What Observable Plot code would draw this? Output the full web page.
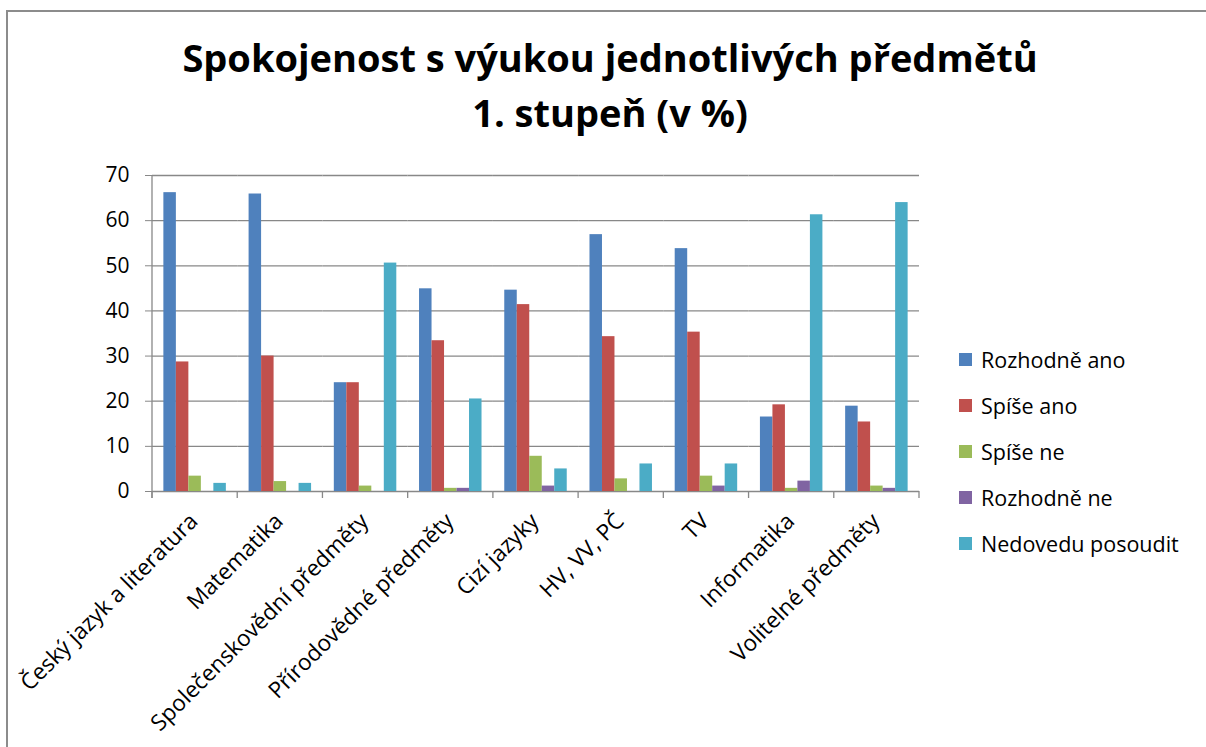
<!DOCTYPE html>
<html>
<head>
<meta charset="utf-8">
<script src="https://cdn.jsdelivr.net/npm/d3@7"></script>
<script src="https://cdn.jsdelivr.net/npm/@observablehq/plot@0.6"></script>
<style>
  html, body { margin: 0; background: #fff; font-family: "Open Sans", sans-serif; overflow: hidden; }
  #wrap { position: relative; width: 1206px; height: 747px; overflow: hidden; background: #fff; }
  #frame { position: absolute; left: 6px; top: 10px; width: 1300px; height: 900px;
           border-top: 2px solid #8c8c8c; border-left: 2px solid #8c8c8c; }
  #title { position: absolute; left: 7px; top: 30px; width: 1206px; text-align: center;
           font-weight: 700; font-size: 38px; line-height: 55px; color: #000; }
  #chart { position: absolute; left: 0; top: 145px; }
  #legend { position: absolute; left: 959px; top: 336px; }
  .item { display: flex; align-items: center; height: 46px; font-size: 21.5px; color: #000; white-space: nowrap; }
  .sw { width: 13px; height: 13px; margin-right: 9px; flex: none; }
</style>
</head>
<body>
<div id="wrap">
  <div id="frame"></div>
  <div id="title">Spokojenost s výukou jednotlivých předmětů<br>1. stupeň (v %)</div>
  <div id="chart"></div>
  <div id="legend"></div>
</div>
<script>
const categories = [
  "Český jazyk a literatura",
  "Matematika",
  "Společenskovědní předměty",
  "Přírodovědné předměty",
  "Cizí jazyky",
  "HV, VV, PČ",
  "TV",
  "Informatika",
  "Volitelné předměty"
];
const series = ["Rozhodně ano", "Spíše ano", "Spíše ne", "Rozhodně ne", "Nedovedu posoudit"];
const colors = ["#4F81BD", "#C0504D", "#9BBB59", "#8064A2", "#4BACC6"];

const rozhodneAno = [66.2, 65.9, 24.1, 44.9, 44.6, 56.9, 53.8, 16.5, 18.9];
const spiseAno    = [28.7, 30.0, 24.1, 33.4, 41.4, 34.3, 35.3, 19.2, 15.4];
const spiseNe     = [3.4, 2.2, 1.2, 0.7, 7.8, 2.8, 3.4, 0.7, 1.2];
const rozhodneNe  = [0, 0, 0, 0.7, 1.2, 0, 1.2, 2.3, 0.7];
const nedovedu    = [1.8, 1.8, 50.6, 20.5, 5.0, 6.1, 6.1, 61.3, 64.0];

const yTicks = [0, 10, 20, 30, 40, 50, 60, 70];

const seriesValues = [rozhodneAno, spiseAno, spiseNe, rozhodneNe, nedovedu];
const rows = categories.flatMap((c, i) =>
  series.map((s, j) => ({category: c, series: s, value: seriesValues[j][i]}))
);

const chart = Plot.plot({
  width: 940,
  height: 602,
  marginLeft: 152,
  marginRight: 21,
  marginTop: 30,
  marginBottom: 256,
  style: {fontFamily: '"Open Sans", sans-serif', fontSize: "21px", color: "#000", background: "transparent", overflow: "visible"},
  fx: {domain: categories, padding: 0, round: false, axis: null, label: null},
  x: {domain: series, paddingInner: 0, paddingOuter: 0.91, round: false, axis: null, label: null},
  y: {domain: [0, 70], axis: null, label: null},
  color: {domain: series, range: colors},
  marks: [
    Plot.gridY(yTicks, {stroke: "#888", strokeOpacity: 1, strokeWidth: 1.3}),
    Plot.barY(rows, {fx: "category", x: "series", y: "value", fill: "series"}),
    Plot.axisY(yTicks, {anchor: "left", label: null, tickSize: 7, tickPadding: 16, stroke: "#888", fill: "#000", fontSize: 21}),
    Plot.text(categories, {fx: d => d, text: d => d, frameAnchor: "bottom", rotate: -45,
      textAnchor: "end", lineAnchor: "middle", dx: -1, dy: 26, fontSize: 22.5, fill: "#000"})
  ]
});

// vertical axis line and category boundary tick marks, placed with the plot's own scales
const fxS = chart.scale("fx");
const yS = chart.scale("y");
const step = fxS.step || (fxS.range[1] - fxS.range[0]) / categories.length;
const x0 = fxS.range[0];
const yBottom = Math.max(...yS.range), yTop = Math.min(...yS.range);
const g = d3.select(chart).append("g").attr("stroke", "#888").attr("stroke-width", 1.3);
g.append("line").attr("x1", x0).attr("x2", x0).attr("y1", yTop).attr("y2", yBottom + 7);
d3.range(categories.length + 1).forEach(i => {
  const x = x0 + i * step;
  g.append("line").attr("x1", x).attr("x2", x).attr("y1", yBottom).attr("y2", yBottom + 7);
});

document.getElementById("chart").appendChild(chart);

const legend = document.getElementById("legend");
series.forEach((s, i) => {
  const item = document.createElement("div");
  item.className = "item";
  const sw = document.createElement("span");
  sw.className = "sw";
  sw.style.background = colors[i];
  const t = document.createElement("span");
  t.textContent = s;
  item.appendChild(sw);
  item.appendChild(t);
  legend.appendChild(item);
});
</script>
</body>
</html>
